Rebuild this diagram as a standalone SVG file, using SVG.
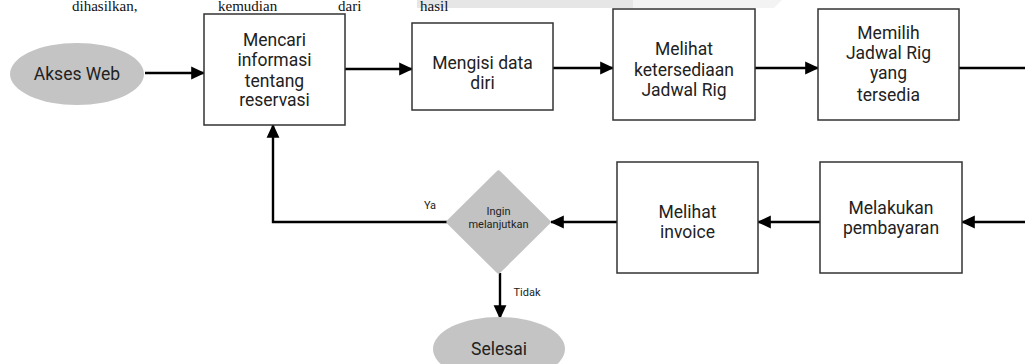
<svg xmlns="http://www.w3.org/2000/svg" width="1025" height="364" viewBox="0 0 1025 364">
<defs>
<style>
.box{fill:#fff;stroke:#333;stroke-width:1.5}
.oval{fill:#c4c4c4;stroke:none}
.t{font-family:Roboto,"Liberation Sans",sans-serif;font-size:17.5px;fill:#222;text-anchor:middle}
.s{font-family:Roboto,"Liberation Sans",sans-serif;font-size:11px;fill:#222;text-anchor:middle}
.c{fill:none;stroke:#000;stroke-width:2.4}
.pg{font-family:"Liberation Serif",serif;font-size:15px;fill:#111}
</style>
<marker id="ah" markerUnits="userSpaceOnUse" markerWidth="14" markerHeight="14" viewBox="0 0 12 12" refX="11" refY="6" orient="auto">
<path d="M0,0.5 L12,6 L0,11.5 Z" fill="#000"/>
</marker>
</defs>
<rect width="1025" height="364" fill="#fff"/>
<g id="page-text">
<rect x="417" y="0" width="216" height="8" fill="#e6e6e6"/>
<path d="M633,0 H782 L774,8 H633 Z" fill="#f3f3f3"/>
<text class="pg" x="72" y="11">dihasilkan,</text>
<text class="pg" x="218" y="11">kemudian</text>
<text class="pg" x="338" y="11">dari</text>
<text class="pg" x="420" y="11">hasil</text>
</g>
<g id="connectors">
<path class="c" d="M145,73 H204" marker-end="url(#ah)"/>
<path class="c" d="M345,69 H412" marker-end="url(#ah)"/>
<path class="c" d="M553,68 H613" marker-end="url(#ah)"/>
<path class="c" d="M755,68 H818" marker-end="url(#ah)"/>
<path class="c" d="M959,68 H1025"/>
<path class="c" d="M1025,222 H962" marker-end="url(#ah)"/>
<path class="c" d="M820,222 H758" marker-end="url(#ah)"/>
<path class="c" d="M617,222 H551" marker-end="url(#ah)"/>
<path class="c" d="M447,222 H273 V125" marker-end="url(#ah)"/>
<path class="c" d="M500,273 V318" marker-end="url(#ah)"/>
<text class="s" x="430" y="209">Ya</text>
<text class="s" x="527" y="296">Tidak</text>
</g>
<g id="akses-web">
<ellipse class="oval" cx="77" cy="74" rx="67" ry="31"/>
<text class="t" x="77" y="80">Akses Web</text>
</g>
<g id="mencari">
<rect class="box" x="204" y="14" width="141" height="111"/>
<text class="t" x="274.5" y="46">Mencari</text>
<text class="t" x="274.5" y="66">informasi</text>
<text class="t" x="274.5" y="87">tentang</text>
<text class="t" x="274.5" y="106">reservasi</text>
</g>
<g id="mengisi">
<rect class="box" x="412" y="23" width="141" height="87"/>
<text class="t" x="482.5" y="69">Mengisi data</text>
<text class="t" x="482.5" y="89">diri</text>
</g>
<g id="melihat-jadwal">
<rect class="box" x="613" y="9" width="142" height="111"/>
<text class="t" x="684" y="55">Melihat</text>
<text class="t" x="684" y="76">ketersediaan</text>
<text class="t" x="684" y="96">Jadwal Rig</text>
</g>
<g id="memilih">
<rect class="box" x="818" y="9" width="141" height="111"/>
<text class="t" x="888.5" y="39">Memilih</text>
<text class="t" x="888.5" y="59">Jadwal Rig</text>
<text class="t" x="888.5" y="79">yang</text>
<text class="t" x="888.5" y="101">tersedia</text>
</g>
<g id="pembayaran">
<rect class="box" x="820" y="162" width="142" height="111"/>
<text class="t" x="891" y="214">Melakukan</text>
<text class="t" x="891" y="234">pembayaran</text>
</g>
<g id="invoice">
<rect class="box" x="617" y="162" width="141" height="111"/>
<text class="t" x="687.5" y="218">Melihat</text>
<text class="t" x="687.5" y="238">invoice</text>
</g>
<g id="ingin">
<polygon points="498.5,173 548,222 498.5,271 449,222" fill="#c2c2c2" stroke="#c2c2c2" stroke-width="5" stroke-linejoin="round"/>
<text class="s" x="498.5" y="215">Ingin</text>
<text class="s" x="498.5" y="228">melanjutkan</text>
</g>
<g id="selesai">
<ellipse class="oval" cx="499" cy="349" rx="66" ry="32"/>
<text class="t" x="499" y="355">Selesai</text>
</g>
</svg>
